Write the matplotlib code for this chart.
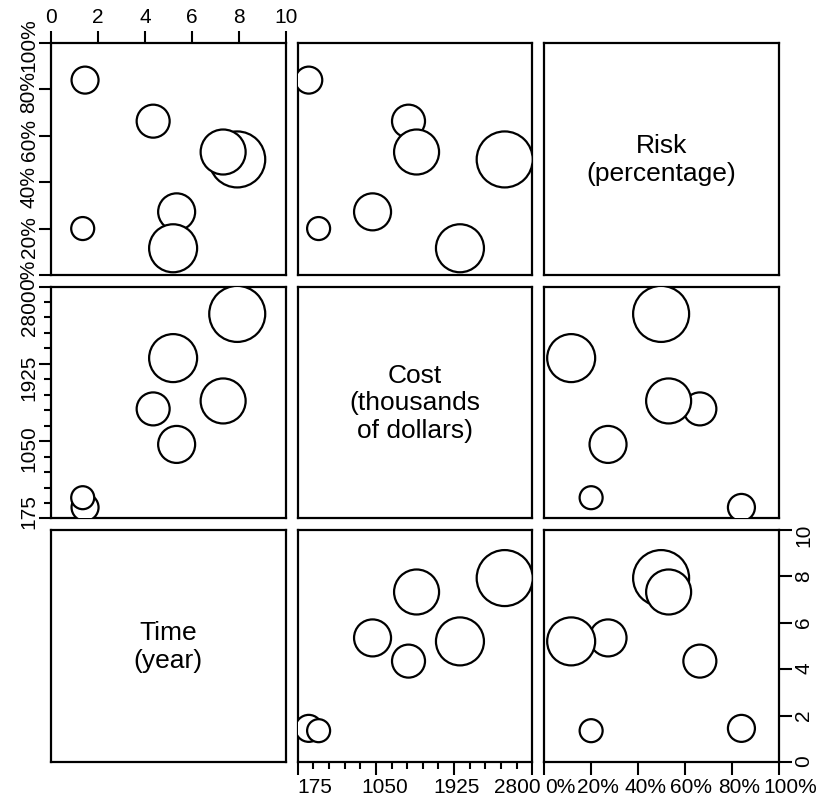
import matplotlib.pyplot as plt
from matplotlib.ticker import MultipleLocator
from matplotlib.transforms import ScaledTranslation

plt.rcParams['font.family'] = ['Liberation Sans', 'DejaVu Sans']

# seven projects
time_years = [1.45, 1.35, 4.35, 5.35, 5.2, 7.93, 7.33]
cost_k = [300, 410, 1415, 1013, 1990, 2490, 1505]
risk_pct = [84, 20, 66.3, 27.2, 11.5, 49.8, 53]
bubble = [13.5, 11.5, 16.5, 18.5, 24, 28, 22.5]  # bubble radius (relative)

time_ticks = [0, 2, 4, 6, 8, 10]
cost_ticks = [175, 1050, 1925, 2800]
risk_ticks = [0, 20, 40, 60, 80, 100]

names = {'risk': 'Risk\n(percentage)',
         'cost': 'Cost\n(thousands\nof dollars)',
         'time': 'Time\n(year)'}
values = {'time': time_years, 'cost': cost_k, 'risk': risk_pct}
limits = {'time': (0, 10), 'cost': (175, 2800), 'risk': (0, 100)}

row_vars = ['risk', 'cost', 'time']
col_vars = ['time', 'cost', 'risk']

fig, axes = plt.subplots(3, 3, figsize=(8.24, 8.03), dpi=100)
fig.subplots_adjust(left=51/824, right=779/824, top=1-44/803, bottom=1-763/803,
                    wspace=0.05, hspace=0.05)

sizes = [(2 * r * 0.72) ** 2 for r in bubble]

for i, yv in enumerate(row_vars):
    for j, xv in enumerate(col_vars):
        ax = axes[i, j]
        ax.set_xlim(limits[xv])
        ax.set_ylim(limits[yv])
        ax.tick_params(which='both', bottom=False, left=False, top=False, right=False,
                       labelbottom=False, labelleft=False)
        for sp in ax.spines.values():
            sp.set_linewidth(1.6)
        if xv == yv:
            ax.text(0.5, 0.5, names[xv], transform=ax.transAxes, ha='center',
                    va='center', fontsize=19, linespacing=1.2)
            continue
        ax.scatter(values[xv], values[yv], s=sizes, facecolors='white',
                   edgecolors='black', linewidths=1.6, zorder=3)

tick_kw = dict(labelsize=15, length=9, width=1.5)


def nudge(labels, dx=None, dy=None):
    # move tick labels a few pixels, like the scanned original
    n = len(labels)
    dx = dx or [0] * n
    dy = dy or [0] * n
    for lab, a, b in zip(labels, dx, dy):
        lab.set_transform(lab.get_transform() +
                          ScaledTranslation(a / 100, b / 100, fig.dpi_scale_trans))


# top: time
ax = axes[0, 0]
ax.set_xticks(time_ticks, labels=[str(t) for t in time_ticks])
ax.tick_params(axis='x', top=True, labeltop=True, pad=3, **tick_kw)

# left: risk
ax.set_yticks(risk_ticks, labels=[f'{t}%' for t in risk_ticks])
ax.tick_params(axis='y', left=True, labelleft=True, labelrotation=90, pad=0, **tick_kw)
nudge(ax.get_yticklabels(), dy=[9, 6, 10, 10, 12, 18])

# left: cost
ax = axes[1, 0]
ax.set_yticks(cost_ticks, labels=[str(t) for t in cost_ticks])
ax.yaxis.set_minor_locator(MultipleLocator(175))
ax.tick_params(axis='y', which='major', left=True, labelleft=True, labelrotation=90,
               pad=0, **tick_kw)
ax.tick_params(axis='y', which='minor', left=True, length=5, width=1.5)
nudge(ax.get_yticklabels(), dy=[18, 9, 3, -9])

# bottom: cost
ax = axes[2, 1]
ax.set_xticks(cost_ticks, labels=[str(t) for t in cost_ticks])
ax.xaxis.set_minor_locator(MultipleLocator(175))
ax.tick_params(axis='x', which='major', bottom=True, labelbottom=True, pad=1.5, **tick_kw)
ax.tick_params(axis='x', which='minor', bottom=True, length=5, width=1.5)
nudge(ax.get_xticklabels(), dx=[17, 9, 2, -15])

# bottom: risk, right: time
ax = axes[2, 2]
ax.set_xticks(risk_ticks, labels=[f'{t}%' for t in risk_ticks])
ax.tick_params(axis='x', bottom=True, labelbottom=True, pad=1.5, **tick_kw)
nudge(ax.get_xticklabels(), dx=[16, 7, 7, 6, 7, 11])
ax.yaxis.set_ticks_position('right')
ax.set_yticks(time_ticks, labels=[str(t) for t in time_ticks])
ax.tick_params(axis='y', right=True, labelright=True, labelrotation=90, pad=2, **tick_kw)

fig.savefig('out.png', dpi=100)
